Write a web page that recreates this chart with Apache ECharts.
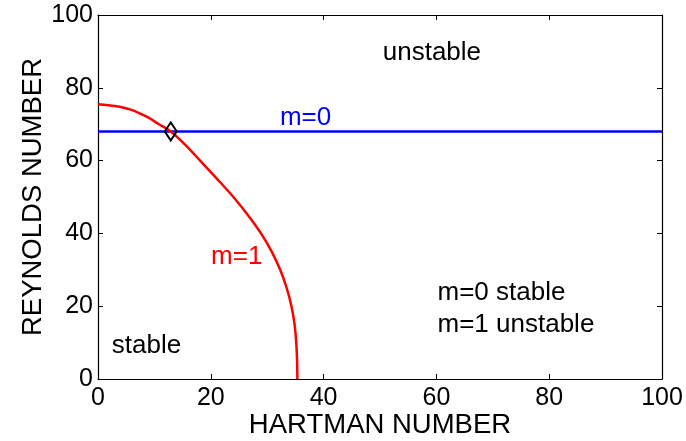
<!DOCTYPE html>
<html><head><meta charset="utf-8">
<script src="https://cdn.jsdelivr.net/npm/echarts@6/dist/echarts.min.js"></script>
<style>html,body{margin:0;padding:0;background:#fff}#c{width:686px;height:441px}</style>
</head><body><div id="c"></div>
<script>
// m=1 stability boundary (Hartmann, Reynolds)
const m1Hartmann = [0, 3.0, 5.8, 8.7, 10.8, 12.9, 15.7, 18.1, 21.1, 24.0, 26.6, 28.9, 30.8, 32.3, 33.45, 34.3, 34.85, 35.15, 35.3, 35.35];
const m1Reynolds = [75.5, 75, 74, 72, 70, 68, 64, 60, 55, 50, 45, 40, 35, 30, 25, 20, 15, 10, 5, 0];
// m=0 boundary
const m0Hartmann = [0, 100];
const m0Reynolds = [68, 68];
// crossing point
const crossPoint = [12.9, 68];
// annotations
const labelTexts = ['unstable', 'm=0', 'm=1', 'm=0 stable', 'm=1 unstable', 'stable'];
const labelPos = [[59.2, 89.6], [36.8, 71.7], [24.6, 33.6], [60.2, 23.6], [60.2, 14.8], [8.6, 9.1]];
const labelColors = ['#000000', '#0000ff', '#ff0000', '#000000', '#000000', '#000000'];
const labelAlign = ['center', 'center', 'center', 'left', 'left', 'center'];

const font = 'Liberation Sans, Arial, Helvetica, sans-serif';
const chart = echarts.init(document.getElementById('c'));
const axisCommon = {
  min: 0, max: 100, interval: 20,
  axisLine: {show: true, onZero: false, lineStyle: {color: '#000', width: 1.2}},
  axisTick: {show: true, inside: true, length: 5, lineStyle: {color: '#000'}},
  splitLine: {show: false},
  axisLabel: {color: '#000', fontSize: 25, fontFamily: font}
};
chart.setOption({
  animation: false,
  grid: {left: 98, top: 15, right: 24, bottom: 62, containLabel: false, outerBoundsMode: 'none'},
  xAxis: [
    Object.assign({}, axisCommon, {type: 'value', position: 'bottom',
      name: 'HARTMAN NUMBER', nameLocation: 'middle', nameGap: 32, nameMoveOverlap: false,
      nameTextStyle: {color: '#000', fontSize: 27.5, fontFamily: font},
      axisLabel: {color: '#000', fontSize: 25, fontFamily: font, margin: 7}}),
    Object.assign({}, axisCommon, {type: 'value', position: 'top', axisLabel: {show: false}})
  ],
  yAxis: [
    Object.assign({}, axisCommon, {type: 'value', position: 'left',
      name: 'REYNOLDS NUMBER', nameLocation: 'middle', nameGap: 51, nameMoveOverlap: false,
      nameTextStyle: {color: '#000', fontSize: 27.5, fontFamily: font},
      axisLabel: {color: '#000', fontSize: 25, fontFamily: font, margin: 5}}),
    Object.assign({}, axisCommon, {type: 'value', position: 'right', axisLabel: {show: false}})
  ],
  series: [
    {type: 'line', data: m0Hartmann.map((x, i) => [x, m0Reynolds[i]]), showSymbol: false,
     lineStyle: {color: '#0000ff', width: 2.5}, z: 2},
    {type: 'line', data: m1Hartmann.map((x, i) => [x, m1Reynolds[i]]), showSymbol: false, smooth: 0.3,
     lineStyle: {color: '#ff0000', width: 2.5}, z: 3},
    {type: 'scatter', data: [crossPoint], symbol: 'diamond', symbolSize: [12, 18],
     itemStyle: {color: 'rgba(0,0,0,0)', borderColor: '#000', borderWidth: 2, opacity: 1}, z: 5},
    {type: 'scatter', symbolSize: 0, silent: true, z: 6, itemStyle: {opacity: 1},
     data: labelPos.map((p, i) => ({value: p,
       label: {show: true, position: 'inside', formatter: labelTexts[i], color: labelColors[i],
         textBorderWidth: 0, fontSize: 26, fontFamily: font, align: labelAlign[i], verticalAlign: 'middle'}}))}
  ]
});
</script></body></html>
